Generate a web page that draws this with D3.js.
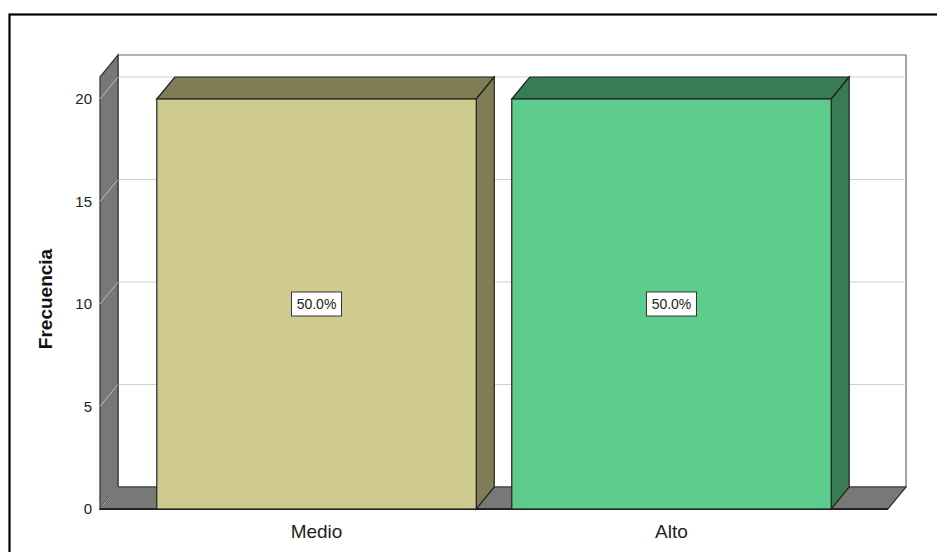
<!DOCTYPE html>
<html>
<head>
<meta charset="utf-8">
<script src="https://cdn.jsdelivr.net/npm/d3@7"></script>
<style>
  body { margin: 0; background: #fff; }
  text { font-family: "Liberation Sans", Arial, sans-serif; }
</style>
</head>
<body>
<svg id="chart" width="937" height="552"></svg>
<script>
// chart data
var categories = ['Medio', 'Alto'];
var counts = [20, 20];
var percents = ['50.0%', '50.0%'];
var yTicks = [0, 5, 10, 15, 20];
var frontColors = ['#cfcb8f', '#5ccb8c'];
var darkColors = ['#807c55', '#377c54'];

var svg = d3.select('#chart');

// depth of the 3D box
var dx = 18, dy = 22;
var x0 = 100, x1 = 888, yTop = 77;

var x = d3.scaleBand().domain(categories).range([x0, x1])
  .paddingInner(0.1).paddingOuter(0.16);
var y = d3.scaleLinear().domain([0, 20]).range([509, 99]);
var yBase = y(0);

// outer frame
svg.append('rect')
  .attr('x', 9.5).attr('y', 14.5)
  .attr('width', 940).attr('height', 550)
  .attr('fill', 'none').attr('stroke', '#000').attr('stroke-width', 2.2);

function poly(pts) { return 'M' + pts.map(p => p.join(',')).join('L') + 'Z'; }

// back wall
svg.append('path')
  .attr('d', poly([[x0 + dx, yTop - dy], [x1 + dx, yTop - dy], [x1 + dx, yBase - dy], [x0 + dx, yBase - dy]]))
  .attr('fill', '#fff').attr('stroke', '#666').attr('stroke-width', 1.2);

// grid lines on back wall
svg.append('g').selectAll('line')
  .data(yTicks.slice(1))
  .enter().append('line')
  .attr('x1', x0 + dx).attr('x2', x1 + dx)
  .attr('y1', d => y(d) - dy).attr('y2', d => y(d) - dy)
  .attr('stroke', '#d0d0d0').attr('stroke-width', 1.2);

// left wall
svg.append('path')
  .attr('d', poly([[x0, yBase], [x0, yTop], [x0 + dx, yTop - dy], [x0 + dx, yBase - dy]]))
  .attr('fill', '#787878').attr('stroke', '#333').attr('stroke-width', 1.2);

// floor
svg.append('path')
  .attr('d', poly([[x0, yBase], [x1, yBase], [x1 + dx, yBase - dy], [x0 + dx, yBase - dy]]))
  .attr('fill', '#787878').attr('stroke', '#333').attr('stroke-width', 1.2);

// tick marks on left wall
svg.append('g').selectAll('line')
  .data(yTicks)
  .enter().append('line')
  .attr('x1', x0).attr('x2', x0 + dx)
  .attr('y1', d => y(d)).attr('y2', d => y(d) - dy)
  .attr('stroke', '#bbb').attr('stroke-width', 1);

svg.append('line')
  .attr('x1', x0).attr('x2', x1).attr('y1', yBase).attr('y2', yBase)
  .attr('stroke', '#222').attr('stroke-width', 2);

// bars
var bars = svg.append('g').selectAll('g')
  .data(categories)
  .enter().append('g');

bars.append('path')
  .attr('d', (d, i) => {
    var bx = x(d), bw = x.bandwidth(), by = y(counts[i]);
    return poly([[bx, by], [bx + dx, by - dy], [bx + bw + dx, by - dy], [bx + bw, by]]);
  })
  .attr('fill', (d, i) => darkColors[i]).attr('stroke', '#222').attr('stroke-width', 1.2);

bars.append('path')
  .attr('d', (d, i) => {
    var bx = x(d) + x.bandwidth(), by = y(counts[i]);
    return poly([[bx, by], [bx + dx, by - dy], [bx + dx, yBase - dy], [bx, yBase]]);
  })
  .attr('fill', (d, i) => darkColors[i]).attr('stroke', '#222').attr('stroke-width', 1.2);

bars.append('rect')
  .attr('x', d => x(d))
  .attr('y', (d, i) => y(counts[i]))
  .attr('width', x.bandwidth())
  .attr('height', (d, i) => yBase - y(counts[i]))
  .attr('fill', (d, i) => frontColors[i]).attr('stroke', '#222').attr('stroke-width', 1.2);

// percentage labels
bars.append('rect')
  .attr('x', d => x(d) + x.bandwidth() / 2 - 25)
  .attr('y', (d, i) => y(counts[i] / 2) - 12)
  .attr('width', 50).attr('height', 24)
  .attr('fill', '#fff').attr('stroke', '#333').attr('stroke-width', 1);

bars.append('text')
  .attr('x', d => x(d) + x.bandwidth() / 2)
  .attr('y', (d, i) => y(counts[i] / 2))
  .attr('dy', '0.36em')
  .attr('text-anchor', 'middle')
  .style('font-size', '14px')
  .attr('fill', '#222')
  .text((d, i) => percents[i]);

// y tick labels
svg.append('g').selectAll('text')
  .data(yTicks)
  .enter().append('text')
  .attr('x', 92).attr('y', d => y(d))
  .attr('dy', '0.36em')
  .attr('text-anchor', 'end')
  .style('font-size', '15px')
  .attr('fill', '#222')
  .text(d => d);

// category labels
svg.append('g').selectAll('text')
  .data(categories)
  .enter().append('text')
  .attr('x', d => x(d) + x.bandwidth() / 2)
  .attr('y', 538)
  .attr('text-anchor', 'middle')
  .style('font-size', '19px')
  .attr('fill', '#222')
  .text(d => d);

svg.append('text')
  .attr('transform', 'translate(52,299) rotate(-90)')
  .attr('text-anchor', 'middle')
  .style('font-size', '19px')
  .style('font-weight', 'bold')
  .attr('fill', '#111')
  .text('Frecuencia');
</script>
</body>
</html>
